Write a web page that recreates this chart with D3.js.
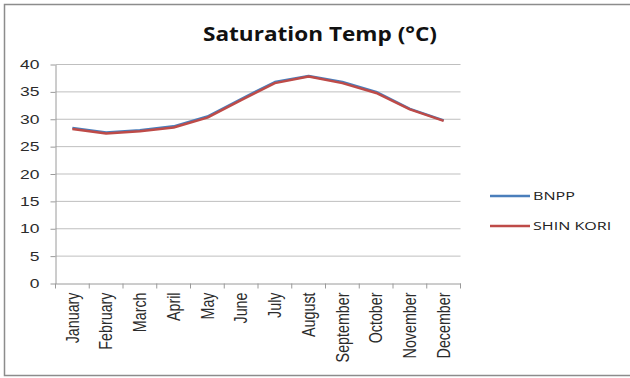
<!DOCTYPE html>
<html>
<head>
<meta charset="utf-8">
<script src="https://cdn.jsdelivr.net/npm/d3@7"></script>
<style>
  body { margin: 0; background: #fff; }
  svg { font-family: "Open Sans", "DejaVu Sans", sans-serif; }
  .grid line { stroke: #bfbfbf; stroke-width: 1; }
  .axis path, .axis line { stroke: #9a9a9a; }
  .axis text { fill: #2b2b2b; }
</style>
</head>
<body>
<svg id="chart" width="630" height="378"></svg>
<script>
// Datos
const meses = ["January", "February", "March", "April", "May", "June", "July",
  "August", "September", "October", "November", "December"];
const bnpp = [28.4, 27.6, 28.0, 28.7, 30.5, 33.7, 36.8, 37.9, 36.8, 35.0, 31.9, 29.8];
const shinKori = [28.2, 27.4, 27.8, 28.5, 30.3, 33.5, 36.6, 37.8, 36.6, 34.8, 31.8, 29.7];
const yTicks = [0, 5, 10, 15, 20, 25, 30, 35, 40];

const series = [
  { nombre: "BNPP", valores: bnpp, color: "#4a7ebb" },
  { nombre: "SHIN KORI", valores: shinKori, color: "#be4b48" }
];

// La imagen original esta estirada a lo ancho
const estirar = 1.4;

const svg = d3.select("#chart");

// Marco exterior
svg.append("rect")
  .attr("x", 4.5).attr("y", 4.5)
  .attr("width", 640).attr("height", 371)
  .attr("fill", "#fff")
  .attr("stroke", "#8c8c8c")
  .attr("stroke-width", 1.5);

// Titulo
svg.append("text")
  .attr("x", 203).attr("y", 41)
  .attr("font-size", 19)
  .attr("font-weight", "bold")
  .attr("fill", "#111")
  .attr("textLength", 234)
  .attr("lengthAdjust", "spacingAndGlyphs")
  .text("Saturation Temp (°C)");

const x0 = 55.5, x1 = 460.5, yTop = 64.5, yBot = 283.5;

const x = d3.scaleBand().domain(meses).range([x0, x1]);
const y = d3.scaleLinear().domain([0, 40]).range([yBot, yTop]);

// Lineas de cuadricula
svg.append("g").attr("class", "grid")
  .selectAll("line").data(yTicks.filter(d => d > 0)).join("line")
  .attr("x1", x0).attr("x2", x1)
  .attr("y1", d => y(d)).attr("y2", d => y(d));

// Eje Y
const ejeY = svg.append("g").attr("class", "axis")
  .attr("transform", `translate(${x0},0)`)
  .call(d3.axisLeft(y).tickValues(yTicks).tickSize(5).tickSizeOuter(0));
ejeY.selectAll("text")
  .attr("font-size", 12.5)
  .attr("x", -16 / estirar)
  .attr("transform", `scale(${estirar},1)`);

// Eje X
const ejeX = svg.append("g").attr("class", "axis")
  .attr("transform", `translate(0,${yBot})`)
  .call(d3.axisBottom(x).tickSize(0).tickSizeOuter(0));
ejeX.selectAll(".tick line").remove();
ejeX.selectAll(".tick text")
  .attr("font-size", 14.3)
  .attr("transform", "rotate(-90) scale(1,1.25)")
  .attr("text-anchor", "end")
  .attr("x", -9)
  .attr("y", 0)
  .attr("dy", "0.35em");
// Marcas entre categorias
svg.append("g").attr("class", "axis")
  .selectAll("line").data(d3.range(meses.length + 1)).join("line")
  .attr("x1", i => x0 + i * x.bandwidth()).attr("x2", i => x0 + i * x.bandwidth())
  .attr("y1", yBot).attr("y2", yBot + 5);

// Lineas de datos
const linea = d3.line()
  .x((d, i) => x(meses[i]) + x.bandwidth() / 2)
  .y(d => y(d));

series.forEach(s => {
  svg.append("path")
    .datum(s.valores)
    .attr("fill", "none")
    .attr("stroke", s.color)
    .attr("stroke-width", 2.5)
    .attr("stroke-linejoin", "round")
    .attr("d", linea);
});

// Leyenda
const leyenda = svg.append("g").selectAll("g").data(series).join("g")
  .attr("transform", (d, i) => `translate(490,${196 + i * 30})`);
leyenda.append("line")
  .attr("x1", 0).attr("x2", 40)
  .attr("stroke", d => d.color).attr("stroke-width", 2.5);
leyenda.append("text")
  .attr("x", 43 / estirar).attr("dy", "0.35em")
  .attr("transform", `scale(${estirar},1)`)
  .attr("font-size", 11.5)
  .attr("fill", "#222")
  .text(d => d.nombre);
</script>
</body>
</html>
